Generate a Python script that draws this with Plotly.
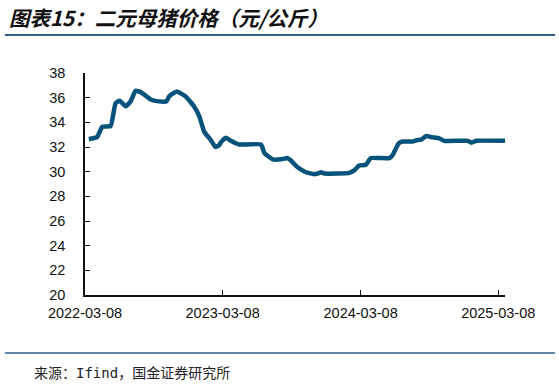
import plotly.graph_objects as go

dates = ["2022-03-18","2022-04-09","2022-04-23","2022-05-15","2022-05-28","2022-06-08",
         "2022-06-24","2022-07-07","2022-07-20","2022-08-03","2022-08-29","2022-09-20",
         "2022-10-10","2022-10-17","2022-11-06","2022-11-30","2022-12-22","2023-01-05",
         "2023-01-18","2023-02-05","2023-02-17","2023-02-27","2023-03-04","2023-03-17",
         "2023-03-30","2023-04-12","2023-04-21","2023-06-18","2023-06-27","2023-07-19",
         "2023-08-10","2023-08-27","2023-09-05","2023-09-23","2023-10-15","2023-11-06",
         "2023-11-15","2023-11-24","2023-12-03","2024-02-07","2024-02-20","2024-03-04",
         "2024-03-22","2024-04-04","2024-05-23","2024-06-01","2024-06-17","2024-06-28",
         "2024-07-25","2024-08-03","2024-08-16","2024-08-29","2024-09-11","2024-10-03",
         "2024-10-16","2024-12-17","2024-12-27","2025-01-09","2025-03-26"]
prices = [32.65,32.8,33.65,33.7,35.55,35.75,
          35.3,35.7,36.55,36.45,35.85,35.7,
          35.7,36.1,36.5,36.1,35.3,34.5,
          33.25,32.55,32.0,32.15,32.4,32.75,
          32.5,32.3,32.2,32.2,31.5,31.0,
          31.0,31.1,30.9,30.35,29.95,29.8,
          29.85,29.95,29.85,29.9,30.1,30.5,
          30.55,31.1,31.1,31.35,32.3,32.45,
          32.45,32.55,32.6,32.9,32.8,32.7,
          32.5,32.5,32.35,32.5,32.5]

tick_dates = ["2022-03-08","2023-03-08","2024-03-08","2025-03-08"]
tick_labels = ["2022-03-08","2023-03-08","2024-03-08","2025-03-08"]
y_ticks = [20,22,24,26,28,30,32,34,36,38]

title_text = "图表15：二元母猪价格（元/公斤）"
source_text = "来源：<span style='font-family:DejaVu Sans Mono'>Ifind</span>，国金证券研究所"

W, H = 559, 384
L, R, T, B = 85, 505, 73, 295

def px(x):
    return (x - L) / (R - L)

def py(y):
    return (B - y) / (B - T)

fig = go.Figure()
fig.add_trace(go.Scatter(x=dates, y=prices, mode="lines",
                         line=dict(color="#05527a", width=4.5, shape="spline", smoothing=0.4),
                         hoverinfo="skip", showlegend=False))

fig.update_layout(
    width=W, height=H,
    margin=dict(l=L, r=W - R, t=T, b=H - B, pad=0),
    paper_bgcolor="white", plot_bgcolor="white",
    font=dict(family="Liberation Sans, Arial, sans-serif", size=14.5, color="#111"),
    xaxis=dict(range=["2022-03-08", "2025-03-26"], tickmode="array",
               tickvals=tick_dates, ticktext=tick_labels,
               ticks="inside", ticklen=5, tickcolor="#111", tickwidth=1,
               showline=True, linecolor="#111", linewidth=1.5,
               showgrid=False, zeroline=False, tickfont=dict(size=14.5),
               ticklabelstandoff=4),
    yaxis=dict(range=[20, 38], tickmode="array", tickvals=y_ticks,
               ticks="inside", ticklen=5, tickcolor="#111", tickwidth=1,
               showline=True, linecolor="#111", linewidth=1.5,
               showgrid=False, zeroline=False, tickfont=dict(size=14.5),
               ticklabelstandoff=15),
    shapes=[
        dict(type="line", xref="paper", yref="paper", x0=px(5), x1=px(555),
             y0=py(35), y1=py(35), line=dict(color="#2f5f8c", width=2)),
        dict(type="line", xref="paper", yref="paper", x0=px(5), x1=px(555),
             y0=py(353), y1=py(353), line=dict(color="#2f5f8c", width=1.5)),
    ],
    annotations=[
        dict(text="<b><i>" + title_text + "</i></b>", xref="paper", yref="paper",
             x=px(7), y=py(17), xanchor="left", yanchor="middle", showarrow=False,
             font=dict(family="Noto Sans CJK SC", size=20.5, color="#111")),
        dict(text=source_text, xref="paper", yref="paper",
             x=px(32), y=py(372), xanchor="left", yanchor="middle", showarrow=False,
             font=dict(family="Noto Sans CJK SC", size=14, color="#222")),
    ],
)

fig.write_html("out.html", config={"displayModeBar": False},
               post_script="document.body.style.margin='0';")
